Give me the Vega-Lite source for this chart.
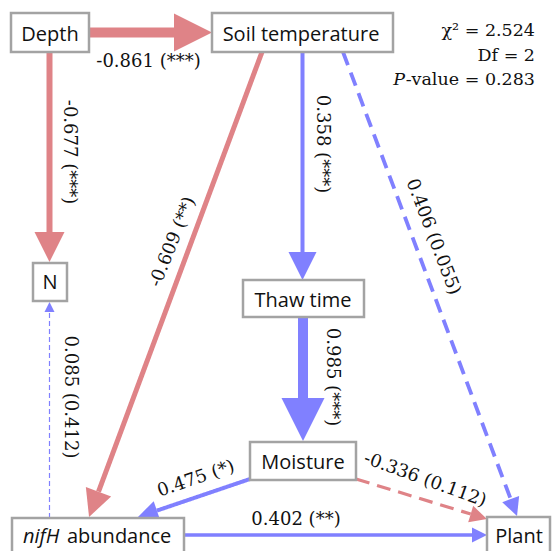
{
  "$schema": "https://vega.github.io/schema/vega-lite/v6.json",
  "width": 553,
  "height": 551,
  "autosize": "none",
  "padding": 0,
  "background": "white",
  "config": {"view": {"stroke": null}},
  "datasets": {
    "edges": [
      {"from": "Depth", "to": "Soil temperature", "coef": -0.861, "sig": "***", "strength": 0.861, "label": "-0.861 (***)", "x1": 89, "y1": 32.5, "bx": 174, "by": 32.5, "dir": 0, "lx": 148.5, "ly": 61.5, "langle": 0},
      {"from": "Depth", "to": "N", "coef": -0.677, "sig": "***", "strength": 0.677, "label": "-0.677 (***)", "x1": 49.5, "y1": 52, "bx": 49.5, "by": 232, "dir": 90, "lx": 69, "ly": 152, "langle": 90},
      {"from": "Soil temperature", "to": "Thaw time", "coef": 0.358, "sig": "***", "strength": 0.358, "label": "0.358 (***)", "x1": 302.5, "y1": 52, "bx": 302.5, "by": 252, "dir": 90, "lx": 322, "ly": 144, "langle": 90},
      {"from": "Thaw time", "to": "Moisture", "coef": 0.985, "sig": "***", "strength": 0.985, "label": "0.985 (***)", "x1": 303, "y1": 317, "bx": 303, "by": 398, "dir": 90, "lx": 332, "ly": 377, "langle": 90},
      {"from": "Soil temperature", "to": "nifH abundance", "coef": -0.609, "sig": "**", "strength": 0.609, "label": "-0.609 (**)", "x1": 262, "y1": 52, "bx": 98.5, "by": 491.7, "dir": 110.5, "lx": 173, "ly": 242, "langle": -68},
      {"from": "Soil temperature", "to": "Plant", "coef": 0.406, "sig": "ns", "strength": 0.406, "label": "0.406 (0.055)", "x1": 343, "y1": 52, "bx": 510.7, "by": 499.1, "dir": 69.4, "lx": 433, "ly": 237, "langle": 69},
      {"from": "nifH abundance", "to": "N", "coef": 0.085, "sig": "ns", "strength": 0.085, "label": "0.085 (0.412)", "x1": 49.5, "y1": 518, "bx": 49.5, "by": 312, "dir": -90, "lx": 70, "ly": 397, "langle": 90},
      {"from": "Moisture", "to": "nifH abundance", "coef": 0.475, "sig": "*", "strength": 0.475, "label": "0.475 (*)", "x1": 250, "y1": 479, "bx": 156.9, "by": 510.6, "dir": 161.3, "lx": 196, "ly": 479, "langle": -19},
      {"from": "Moisture", "to": "Plant", "coef": -0.336, "sig": "ns", "strength": 0.336, "label": "-0.336 (0.112)", "x1": 356, "y1": 479, "bx": 470.7, "by": 514, "dir": 17, "lx": 425, "ly": 480, "langle": 20},
      {"from": "nifH abundance", "to": "Plant", "coef": 0.402, "sig": "**", "strength": 0.402, "label": "0.402 (**)", "x1": 184, "y1": 535, "bx": 472, "by": 535, "dir": 0, "lx": 296, "ly": 520, "langle": 0}
    ],
    "nodes": [
      {"name": "Depth", "x1": 11, "x2": 89, "y1": 13, "y2": 52, "tx": 50, "ty": 40.7},
      {"name": "Soil temperature", "x1": 212, "x2": 393, "y1": 13, "y2": 52, "tx": 301, "ty": 40.7},
      {"name": "N", "x1": 33, "x2": 67, "y1": 263, "y2": 301, "tx": 50, "ty": 289},
      {"name": "Thaw time", "x1": 243, "x2": 364, "y1": 280, "y2": 317, "tx": 303, "ty": 306.5},
      {"name": "Moisture", "x1": 250, "x2": 356, "y1": 442, "y2": 480, "tx": 303, "ty": 469},
      {"name": "nifH abundance", "x1": 12, "x2": 184, "y1": 518, "y2": 575, "tx": 98, "ty": 543},
      {"name": "Plant", "x1": 487, "x2": 550, "y1": 517, "y2": 575, "tx": 519, "ty": 543}
    ],
    "stats": [
      {"t": "χ² = 2.524", "x": 535, "y": 36},
      {"t": "Df = 2", "x": 535, "y": 60.5},
      {"t": "-value = 0.283", "x": 535, "y": 85}
    ]
  },
  "layer": [
    {
      "data": {"name": "edges"},
      "mark": {"type": "rule", "strokeCap": "butt"},
      "encoding": {
        "x": {"field": "x1", "type": "quantitative", "scale": {"domain": [0, 553], "nice": false, "zero": false}, "axis": null},
        "y": {"field": "y1", "type": "quantitative", "scale": {"domain": [0, 551], "nice": false, "zero": false, "reverse": true}, "axis": null},
        "x2": {"field": "bx"},
        "y2": {"field": "by"},
        "color": {"condition": {"test": "datum.coef < 0", "value": "#df8387"}, "value": "#8080ff"},
        "strokeWidth": {"field": "strength", "type": "quantitative", "legend": null, "scale": {"zero": false, "domain": [0.085, 0.336, 0.358, 0.402, 0.406, 0.475, 0.609, 0.677, 0.861, 0.985], "range": [1.2, 3.2, 4, 3.5, 3.8, 4, 5, 6, 10, 10]}},
        "strokeDash": {"condition": [{"test": "datum.sig == 'ns' && datum.strength < 0.2", "value": [5, 3]}, {"test": "datum.sig == 'ns'", "value": [14, 8]}], "value": [1, 0]}
      }
    },
    {
      "data": {"name": "edges"},
      "mark": {"type": "point", "shape": "M0,-1L2,0L0,1Z", "filled": true, "opacity": 1, "strokeWidth": 0},
      "encoding": {
        "x": {"field": "bx", "type": "quantitative", "scale": {"domain": [0, 553], "nice": false, "zero": false}, "axis": null},
        "y": {"field": "by", "type": "quantitative", "scale": {"domain": [0, 551], "nice": false, "zero": false, "reverse": true}, "axis": null},
        "angle": {"field": "dir", "type": "quantitative", "scale": null},
        "size": {"field": "strength", "type": "quantitative", "legend": null, "scale": {"zero": false, "domain": [0.085, 0.336, 0.358, 0.402, 0.406, 0.475, 0.609, 0.677, 0.861, 0.985], "range": [100, 289, 784, 225, 324, 400, 729, 900, 1444, 1849]}},
        "color": {"condition": {"test": "datum.coef < 0", "value": "#df8387"}, "value": "#8080ff"}
      }
    },
    {
      "data": {"name": "nodes"},
      "mark": {"type": "rect", "fill": "white", "stroke": "#a3a3a3", "strokeWidth": 2.5, "clip": true},
      "encoding": {
        "x": {"field": "x1", "type": "quantitative", "scale": {"domain": [0, 553], "nice": false, "zero": false}, "axis": null},
        "y": {"field": "y1", "type": "quantitative", "scale": {"domain": [0, 551], "nice": false, "zero": false, "reverse": true}, "axis": null},
        "x2": {"field": "x2"},
        "y2": {"field": "y2"}
      }
    },
    {
      "data": {"name": "nodes"},
      "transform": [{"filter": "datum.name != 'nifH abundance'"}],
      "mark": {"type": "text", "font": "Open Sans", "fontSize": 20, "align": "center", "baseline": "alphabetic", "color": "#111111"},
      "encoding": {
        "x": {"field": "tx", "type": "quantitative", "scale": {"domain": [0, 553], "nice": false, "zero": false}, "axis": null},
        "y": {"field": "ty", "type": "quantitative", "scale": {"domain": [0, 551], "nice": false, "zero": false, "reverse": true}, "axis": null},
        "text": {"field": "name"}
      }
    },
    {
      "data": {"values": [{"t": "nifH", "x": 23, "y": 543}]},
      "mark": {"type": "text", "font": "Open Sans", "fontSize": 20, "fontStyle": "italic", "align": "left", "baseline": "alphabetic", "color": "#111111"},
      "encoding": {
        "x": {"field": "x", "type": "quantitative", "scale": {"domain": [0, 553], "nice": false, "zero": false}, "axis": null},
        "y": {"field": "y", "type": "quantitative", "scale": {"domain": [0, 551], "nice": false, "zero": false, "reverse": true}, "axis": null},
        "text": {"field": "t"}
      }
    },
    {
      "data": {"values": [{"t": "abundance", "x": 67, "y": 543}]},
      "mark": {"type": "text", "font": "Open Sans", "fontSize": 20, "align": "left", "baseline": "alphabetic", "color": "#111111"},
      "encoding": {
        "x": {"field": "x", "type": "quantitative", "scale": {"domain": [0, 553], "nice": false, "zero": false}, "axis": null},
        "y": {"field": "y", "type": "quantitative", "scale": {"domain": [0, 551], "nice": false, "zero": false, "reverse": true}, "axis": null},
        "text": {"field": "t"}
      }
    },
    {
      "data": {"name": "edges"},
      "mark": {"type": "text", "font": "DejaVu Serif", "fontSize": 18, "align": "center", "baseline": "middle", "color": "#111111"},
      "encoding": {
        "x": {"field": "lx", "type": "quantitative", "scale": {"domain": [0, 553], "nice": false, "zero": false}, "axis": null},
        "y": {"field": "ly", "type": "quantitative", "scale": {"domain": [0, 551], "nice": false, "zero": false, "reverse": true}, "axis": null},
        "angle": {"field": "langle", "type": "quantitative", "scale": null},
        "text": {"field": "label"}
      }
    },
    {
      "data": {"name": "stats"},
      "mark": {"type": "text", "font": "DejaVu Serif", "fontSize": 17.5, "align": "right", "baseline": "alphabetic", "color": "#111111"},
      "encoding": {
        "x": {"field": "x", "type": "quantitative", "scale": {"domain": [0, 553], "nice": false, "zero": false}, "axis": null},
        "y": {"field": "y", "type": "quantitative", "scale": {"domain": [0, 551], "nice": false, "zero": false, "reverse": true}, "axis": null},
        "text": {"field": "t"}
      }
    },
    {
      "data": {"values": [{"t": "P", "x": 405, "y": 85}]},
      "mark": {"type": "text", "font": "DejaVu Serif", "fontSize": 17.5, "fontStyle": "italic", "align": "right", "baseline": "alphabetic", "color": "#111111"},
      "encoding": {
        "x": {"field": "x", "type": "quantitative", "scale": {"domain": [0, 553], "nice": false, "zero": false}, "axis": null},
        "y": {"field": "y", "type": "quantitative", "scale": {"domain": [0, 551], "nice": false, "zero": false, "reverse": true}, "axis": null},
        "text": {"field": "t"}
      }
    }
  ]
}
